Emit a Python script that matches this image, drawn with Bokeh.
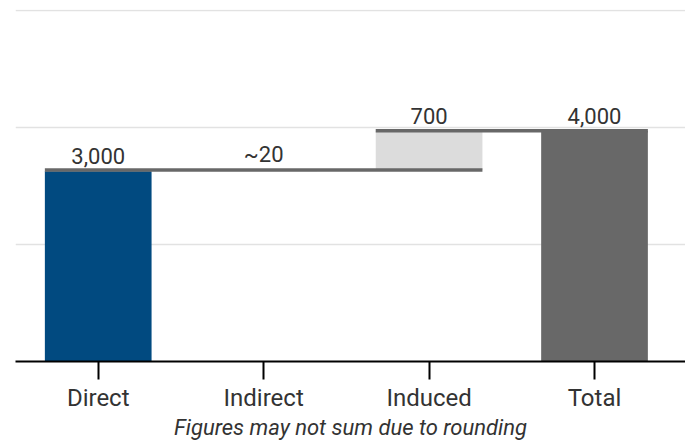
from bokeh.plotting import figure
from bokeh.models import Range1d, FixedTicker, ColumnDataSource
from bokeh.core.properties import value
from bokeh.embed import file_html
from bokeh.resources import INLINE

# ---- data ----
categories = ["Direct", "Indirect", "Induced", "Total"]
step_values = [3250, 20, 670]          # Direct, Indirect, Induced contributions
value_labels = ["3,000", "~20", "700", "4,000"]
bar_colors = ["#014a80", "#dcdcdc", "#dcdcdc", "#686868"]
grid_ticks = [2000, 4000, 6000]

# waterfall geometry derived from the data
cum = []
running = 0
for v in step_values:
    running += v
    cum.append(running)
total = cum[-1]
bottoms = [0, cum[0], cum[1], 0]
tops = [cum[0], cum[1], cum[2], total]
xs = [i + 0.5 for i in range(len(categories))]
bw = 0.645

src = ColumnDataSource(dict(x=xs, top=tops, bottom=bottoms, color=bar_colors))

p = figure(frame_width=670, frame_height=352, output_backend="svg",
           toolbar_location=None, x_range=Range1d(0, 4.05), y_range=Range1d(0, 6010),
           min_border_left=15, min_border_right=0, min_border_top=9, min_border_bottom=0)
p.outline_line_color = None
p.background_fill_color = "white"
p.border_fill_color = "white"

p.vbar(x="x", top="top", bottom="bottom", width=bw, color="color", source=src,
       line_color=None)

# connector / level lines
seg_src = ColumnDataSource(dict(
    x0=[xs[0] - bw / 2, xs[2] - bw / 2],
    x1=[xs[2] + bw / 2, xs[3] + bw / 2],
    y=[cum[1], cum[2]],
))
p.segment(x0="x0", y0="y", x1="x1", y1="y", source=seg_src,
          line_color="#686868", line_width=3.6, line_cap="butt")

# value labels
lab_y = [cum[0], cum[1], cum[2], total]
lab_src = ColumnDataSource(dict(x=xs, y=lab_y, label=value_labels))
p.text(x="x", y="y", text="label", source=lab_src, text_align="center",
       text_baseline="alphabetic", y_offset=-15, text_font=value("Roboto"),
       text_font_size="22px", text_color="#333333")

# axes
p.yaxis.visible = False
p.xgrid.visible = False
p.ygrid.ticker = FixedTicker(ticks=grid_ticks)
p.ygrid.grid_line_color = "#e2e2e2"
p.ygrid.grid_line_width = 1.6

xa = p.xaxis[0]
xa.ticker = FixedTicker(ticks=xs)
xa.major_label_overrides = {x: c for x, c in zip(xs, categories)}
xa.major_label_text_font = "Roboto"
xa.major_label_text_font_size = "24px"
xa.major_label_text_color = "#333333"
xa.major_label_standoff = 4
xa.major_tick_in = 0
xa.major_tick_out = 18
xa.major_tick_line_width = 2
xa.major_tick_line_color = "black"
xa.minor_tick_line_color = None
xa.axis_line_color = "black"
xa.axis_line_width = 2
xa.axis_label = "Figures may not sum due to rounding"
xa.axis_label_text_font = "Roboto"
xa.axis_label_text_font_style = "italic"
xa.axis_label_text_font_size = "22px"
xa.axis_label_text_color = "#333333"
xa.axis_label_standoff = 0

open("out.html", "w").write(file_html(p, INLINE))
